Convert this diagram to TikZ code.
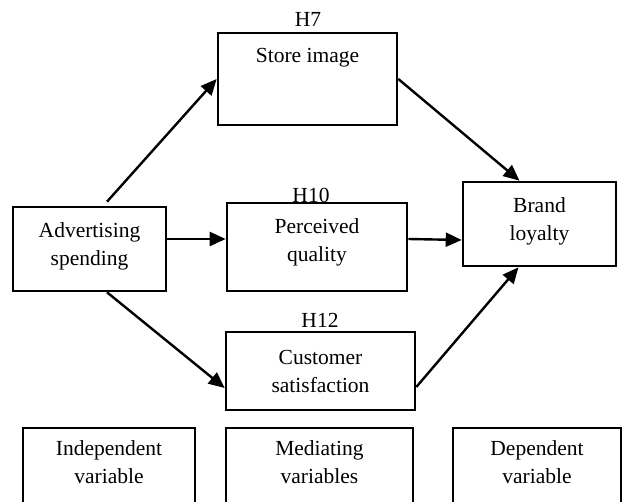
\documentclass[tikz,border=0pt]{standalone}
\usepackage{fontspec}
\setmainfont{Liberation Serif}
\usetikzlibrary{calc,arrows.meta}
\begin{document}
\begin{tikzpicture}[x=1pt,y=-1pt,
  box/.style={draw,line width=2.6pt,rectangle,inner sep=0pt},
  txt/.style={align=center,font=\fontsize{21.5}{28}\selectfont,inner sep=0pt},
  arr/.style={line width=2.4pt,-{Triangle[length=16pt,width=14pt]}}]
\useasboundingbox (0,0) rectangle (624,502);
% boxes
\node[box,minimum width=179pt,minimum height=92pt] (store) at (307.5,79) {};
\node[box,minimum width=153pt,minimum height=84pt] (adv) at (89.5,249) {};
\node[box,minimum width=180pt,minimum height=88pt] (pq) at (317,247) {};
\node[box,minimum width=153pt,minimum height=84pt] (brand) at (539.5,224) {};
\node[box,minimum width=189pt,minimum height=78pt] (cs) at (320.5,371) {};
\begin{scope}
\clip (0,0) rectangle (624,502);
\node[box,minimum width=172pt,minimum height=102pt] (ind) at (109,479) {};
\node[box,minimum width=187pt,minimum height=102pt] (med) at (319.5,479) {};
\node[box,minimum width=168pt,minimum height=102pt] (dep) at (537,479) {};
\end{scope}
% texts
\node[txt] (h7) at (308,19) {H7};
\node[txt] (storet) at ($(store.north)+(0,26)$) {Store image};
\node[txt] (advt) at (89.5,246) {Advertising\\spending};
\node[txt] (pqt) at (317,242) {Perceived\\quality};
\node[txt] (brandt) at (539.5,221) {Brand\\loyalty};
\node[txt] (h10) at (311,195) {H10};
\node[txt] (h12) at (320,320) {H12};
\node[txt] (cst) at (320.5,371) {Customer\\satisfaction};
\node[txt] (indt) at ($(ind.north)+(0,35)$) {Independent\\variable};
\node[txt] (medt) at ($(med.north)+(0,35)$) {Mediating\\variables};
\node[txt] (dept) at ($(dep.north)+(0,35)$) {Dependent\\variable};
% arrows
\draw[arr] ($(adv.north)+(17.5,-4)$) -- (store.west);
\draw[arr] (store.east) -- ($(brand.north)+(-20,0)$);
\draw[arr] ($(adv.east)+(0,-10)$) -- ($(pq.west)+(0,-8)$);
\draw[arr] ($(pq.east)+(0,-8)$) -- ($(brand.west)+(0,16)$);
\draw[arr] ($(adv.south)+(17.5,0)$) -- ($(cs.west)+(0,17)$);
\draw[arr] ($(cs.east)+(0,16)$) -- ($(brand.south)+(-21,0)$);
\end{tikzpicture}
\end{document}
